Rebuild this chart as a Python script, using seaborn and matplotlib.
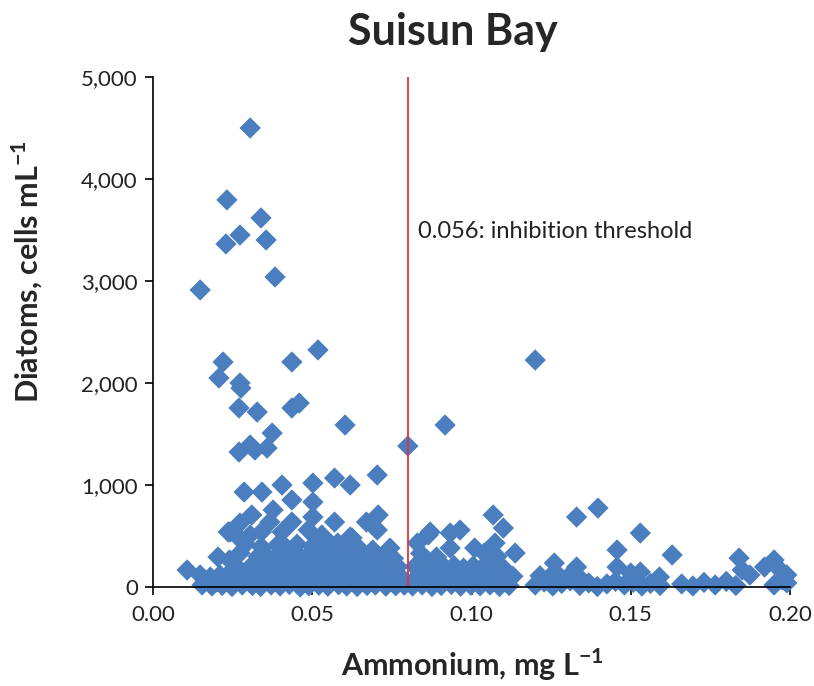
import matplotlib
matplotlib.use("Agg")
import matplotlib.pyplot as plt
from matplotlib import font_manager as fm
from matplotlib.ticker import FuncFormatter
import numpy as np
import pandas as pd
import seaborn as sns

# ---------------- data ----------------
high_x = [0.0305, 0.0232, 0.0339, 0.0273, 0.0229, 0.0355, 0.0383, 0.0148, 0.0220, 0.0207,
          0.0273, 0.0276, 0.0436, 0.0518, 0.0270, 0.0327, 0.0436, 0.0459, 0.0603, 0.0374,
          0.0270, 0.0305, 0.0320, 0.0358, 0.0800, 0.0917, 0.1200, 0.0286, 0.0342, 0.0405,
          0.0502, 0.0570, 0.0619, 0.0704]
high_y = [4500, 3795, 3618, 3451, 3363, 3402, 3039, 2912, 2206, 2049,
          2000, 1950, 2206, 2324, 1755, 1715, 1755, 1803, 1588, 1509,
          1323, 1392, 1343, 1362, 1382, 1588, 2225, 931, 931, 1000,
          1019, 1068, 1000, 1098]

mid_x = [0.0436, 0.0502, 0.0310, 0.0273, 0.0242, 0.0377, 0.0367, 0.0436, 0.0502, 0.0570,
         0.0619, 0.0670, 0.0707, 0.0704, 0.0340, 0.0405, 0.0487, 0.0530, 0.0625, 0.0580,
         0.0236, 0.0270, 0.0305, 0.0290, 0.0870, 0.0933, 0.0964, 0.0830, 0.0864, 0.1068,
         0.1100, 0.1074, 0.1330, 0.1397, 0.1530, 0.1457, 0.1630, 0.1840, 0.1950, 0.0690,
         0.0744, 0.0204, 0.0240, 0.0273]
mid_y = [853, 833, 706, 627, 539, 755, 637, 637, 686, 637,
         490, 637, 706, 559, 539, 539, 559, 510, 480, 431,
         540, 480, 510, 420, 539, 529, 559, 431, 510, 706,
         578, 431, 686, 774, 529, 363, 314, 284, 265, 363,
         382, 294, 265, 333]

low_x = [0.0107, 0.0148, 0.0180, 0.0210, 0.0240, 0.0273, 0.0305,
         0.0154, 0.0185, 0.0217, 0.0248, 0.0280, 0.0165, 0.0200, 0.0230, 0.0262, 0.0295,
         0.0312, 0.0338, 0.0371, 0.0399, 0.0428, 0.0462, 0.0489, 0.0521, 0.0549, 0.0583,
         0.0608, 0.0641, 0.0672, 0.0698, 0.0731, 0.0762, 0.0789,
         0.0325, 0.0356, 0.0384, 0.0415, 0.0447, 0.0475, 0.0506, 0.0535, 0.0566, 0.0597,
         0.0624, 0.0655, 0.0687, 0.0715, 0.0745, 0.0776,
         0.0318, 0.0349, 0.0378, 0.0409, 0.0437, 0.0468, 0.0497, 0.0528, 0.0558, 0.0589,
         0.0617, 0.0648, 0.0678, 0.0707, 0.0738, 0.0768,
         0.0330, 0.0362, 0.0395, 0.0425, 0.0455, 0.0483, 0.0515, 0.0545, 0.0575, 0.0604,
         0.0633, 0.0665, 0.0694, 0.0725, 0.0755,
         0.0340, 0.0390, 0.0420, 0.0452, 0.0500, 0.0540, 0.0560, 0.0600, 0.0640,
         0.0815, 0.0845, 0.0876, 0.0905, 0.0937, 0.0966, 0.0998, 0.1027, 0.1058, 0.1088, 0.1118,
         0.0830, 0.0862, 0.0890, 0.0921, 0.0952, 0.0982, 0.1012, 0.1043, 0.1073, 0.1103, 0.1130,
         0.0822, 0.0853, 0.0885, 0.0915, 0.0945, 0.0975, 0.1005, 0.1035, 0.1065, 0.1095,
         0.0840, 0.0890, 0.0933, 0.1010, 0.1040, 0.1080, 0.1137,
         0.1200, 0.1228, 0.1255, 0.1283, 0.1310, 0.1340, 0.1368, 0.1395, 0.1425, 0.1452,
         0.1480, 0.1508, 0.1535, 0.1562, 0.1592,
         0.1215, 0.1262, 0.1300, 0.1330, 0.1260, 0.1330, 0.1457, 0.1500, 0.1530, 0.1590,
         0.1660, 0.1695, 0.1730, 0.1765, 0.1800, 0.1830,
         0.1874, 0.1850, 0.1920, 0.1960, 0.1990, 0.1975, 0.1950, 0.1990]
low_y = [167, 118, 98, 118, 137, 167, 196,
         20, 10, 15, 5, 20, 60, 50, 70, 55, 80,
         15, 5, 20, 10, 25, 0, 12, 18, 8, 22,
         10, 5, 15, 20, 8, 12, 18,
         110, 95, 120, 90, 105, 130, 100, 85, 115, 95,
         125, 100, 110, 90, 120, 105,
         205, 190, 215, 200, 185, 220, 195, 210, 190, 200,
         215, 185, 205, 190, 210, 200,
         300, 285, 315, 290, 320, 295, 305, 280, 310, 300,
         290, 315, 295, 305, 280,
         395, 410, 380, 420, 400, 390, 415, 385, 400,
         10, 20, 5, 15, 25, 8, 18, 12, 20, 5, 15,
         100, 115, 90, 120, 105, 95, 110, 100, 120, 90, 105,
         200, 215, 190, 196, 210, 185, 205, 195, 215, 200,
         330, 294, 382, 382, 333, 300, 333,
         20, 50, 10, 35, 60, 15, 40, 5, 30, 55,
         20, 45, 10, 35, 15,
         110, 150, 90, 120, 235, 196, 196, 137, 147, 98,
         30, 10, 45, 20, 55, 15,
         118, 167, 196, 196, 118, 69, 20, 40]

threshold_x = 0.08
threshold_label = "0.056: inhibition threshold"
x_ticks = [0.00, 0.05, 0.10, 0.15, 0.20]
y_ticks = [0, 1000, 2000, 3000, 4000, 5000]

df = pd.DataFrame({
    "ammonium": high_x + mid_x + low_x,
    "diatoms": high_y + mid_y + low_y,
})

# ---------------- style ----------------
sns.set_style("ticks")


def pick(names):
    for n in names:
        try:
            fm.findfont(fm.FontProperties(family=n), fallback_to_default=False)
            return n
        except Exception:
            continue
    return "DejaVu Sans"


base_font = pick(["Lato", "Open Sans", "Noto Sans", "DejaVu Sans"])
plt.rcParams["font.family"] = [base_font, "DejaVu Sans"]
plt.rcParams["mathtext.fontset"] = "custom"
plt.rcParams["mathtext.rm"] = base_font
plt.rcParams["mathtext.bf"] = base_font + ":bold"

blue = "#4a7ebf"

fig = plt.figure(figsize=(8.14, 6.86), dpi=100)
ax = fig.add_axes([0.188, 0.1443, 0.7825, 0.7435])

sns.scatterplot(data=df, x="ammonium", y="diatoms", marker="D", s=118,
                color=blue, edgecolor="none", linewidth=0, ax=ax,
                clip_on=False, zorder=2, legend=False)

ax.axvline(threshold_x, color="#e5313b", lw=1.3, zorder=3)
ax.text(threshold_x + 0.0031, 3490, threshold_label, fontsize=17,
        ha="left", va="center", color="#222222")

ax.set_xlim(0, 0.20)
ax.set_ylim(0, 5000)
ax.set_xticks(x_ticks)
ax.set_yticks(y_ticks)
ax.xaxis.set_major_formatter(FuncFormatter(lambda v, p: f"{v:.2f}"))
ax.yaxis.set_major_formatter(FuncFormatter(lambda v, p: f"{int(v):,}"))
ax.tick_params(axis="both", labelsize=16, length=6, width=1.2, color="black",
               labelcolor="#222222", direction="out")
ax.tick_params(axis="x", pad=7)
ax.tick_params(axis="y", pad=5)
for s in ["top", "right"]:
    ax.spines[s].set_visible(False)
for s in ["left", "bottom"]:
    ax.spines[s].set_linewidth(1.2)
    ax.spines[s].set_color("black")
    ax.spines[s].set_zorder(4)

ax.set_xlabel("")
ax.set_ylabel("")
fig.text(0.58, 0.031, r"Ammonium, mg L$^{\mathbf{-1}}$", ha="center", va="center",
         fontsize=22, fontweight="bold")
fig.text(0.034, 0.604, r"Diatoms, cells mL$^{\mathbf{-1}}$", ha="center", va="center",
         rotation=90, fontsize=22, fontweight="bold")
fig.text(0.556, 0.953, "Suisun Bay", ha="center", va="center",
         fontsize=31, fontweight="bold")

fig.savefig("out.png", dpi=100)
